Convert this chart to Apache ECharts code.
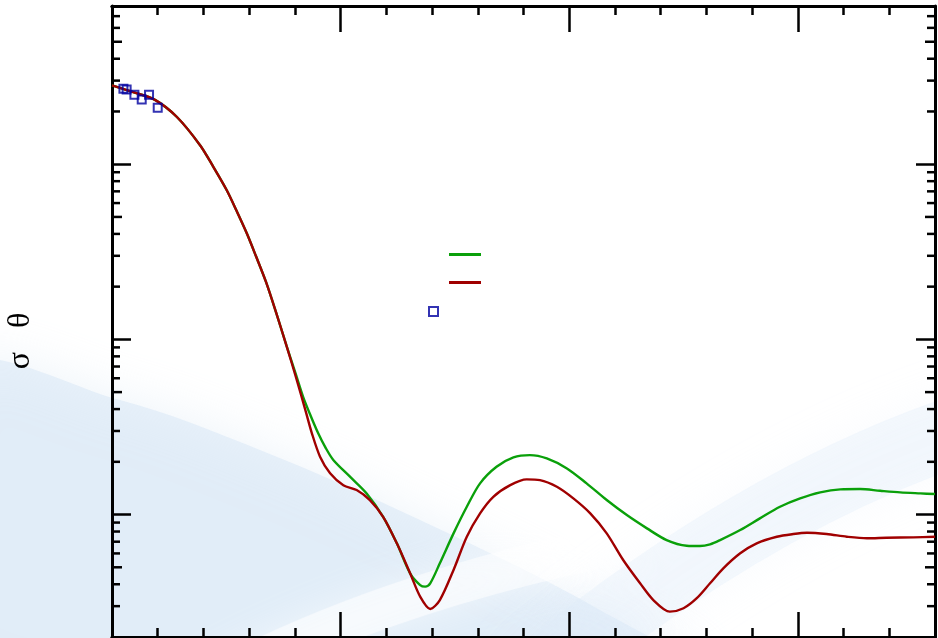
<!DOCTYPE html>
<html><head><meta charset="utf-8">
<script src="https://cdn.jsdelivr.net/npm/echarts@6/dist/echarts.min.js"></script>
<style>html,body{margin:0;padding:0;background:#fff}#c{width:938px;height:638px}</style>
</head><body><div id="c"></div>
<script>
// ---- data ----
const greenAngles = [0, 4.8, 9.4, 14.2, 19.3, 22.1, 25.1, 27.3, 29.5, 31.5, 33.7, 35.9, 38.2, 40.2, 41.8, 43.4, 45.1, 46.7, 48.4, 52.1, 55.7, 59.3, 62.3, 65.2, 67.4, 68.5, 69.6, 71.7, 74.7, 77.6, 80.5, 84.1, 87.8, 91.4, 95.1, 99.5, 103.8, 108.2, 112.6, 117.0, 121.3, 125.7, 128.6, 130.8, 133.0, 137.4, 141.7, 146.1, 150.5, 154.9, 159.3, 163.6, 168.0, 172.4, 176.8, 180];
const greenValues = [282, 257, 233, 186, 128, 97.2, 71, 53.8, 40.2, 29.8, 21.2, 14.2, 9.14, 6.33, 4.70, 3.69, 2.91, 2.41, 2.05, 1.64, 1.32, 0.971, 0.685, 0.462, 0.396, 0.388, 0.405, 0.527, 0.781, 1.108, 1.507, 1.874, 2.12, 2.185, 2.092, 1.834, 1.507, 1.21, 0.993, 0.834, 0.715, 0.664, 0.661, 0.676, 0.715, 0.816, 0.951, 1.108, 1.237, 1.339, 1.392, 1.398, 1.367, 1.339, 1.321, 1.309];

const redAngles = [0, 4.8, 9.4, 14.2, 19.3, 22.1, 25.1, 27.3, 29.5, 31.5, 33.7, 35.9, 38.1, 40.2, 42.4, 43.7, 45.5, 47.7, 50.6, 53.5, 56.4, 59.3, 62.3, 65.2, 67.4, 69.6, 71.7, 74.7, 77.6, 80.5, 83.4, 87.1, 90.7, 93.6, 97.3, 100.9, 104.6, 108.2, 111.8, 115.5, 118.4, 122.0, 125.0, 127.9, 130.8, 133.7, 137.4, 141.0, 145.4, 149.0, 152.0, 156.3, 160.7, 165.1, 169.4, 175.3, 180];
const redValues = [282, 257, 233, 186, 128, 97.2, 71, 53.8, 40.2, 29.8, 21.2, 14.2, 9.31, 6.12, 3.86, 2.92, 2.14, 1.72, 1.47, 1.38, 1.21, 0.971, 0.685, 0.462, 0.34, 0.289, 0.325, 0.483, 0.747, 1.016, 1.263, 1.473, 1.588, 1.573, 1.441, 1.237, 1.016, 0.781, 0.55, 0.405, 0.325, 0.279, 0.292, 0.333, 0.405, 0.493, 0.601, 0.685, 0.747, 0.774, 0.787, 0.774, 0.747, 0.732, 0.737, 0.741, 0.747];

const expAngles = [2.5, 3.2, 4.9, 6.5, 8.1, 10.0];
const expValues = [270, 267, 249, 234, 249, 210];

const yMinorTicks = [0.3, 0.4, 0.5, 0.6, 0.7, 0.8, 0.9, 2, 3, 4, 5, 6, 7, 8, 9, 20, 30, 40, 50, 60, 70, 80, 90, 200, 300, 400, 500, 600, 700];
const seriesNames = ['Calc. A', 'Calc. B', 'Exp.'];
const yTitle = 'σ   θ';

// ---- chart ----
const chart = echarts.init(document.getElementById('c'), null, {renderer: 'canvas'});
const zip = (a, b) => a.map((x, i) => [x, b[i]]);
const X_MIN = 0, X_MAX = 180, Y_MIN = 0.2, Y_MAX = 800;

function xAxisDef(pos, interval, len) {
  return {
    type: 'value', min: X_MIN, max: X_MAX, interval: interval, position: pos,
    axisLine: {show: true, onZero: false, lineStyle: {color: '#000', width: 3}},
    axisTick: {show: true, inside: true, length: len, lineStyle: {color: '#000', width: 2.5}},
    axisLabel: {show: false}, splitLine: {show: false}
  };
}
function yAxisDef(pos) {
  return {
    type: 'log', logBase: 10, min: Y_MIN, max: Y_MAX, position: pos,
    axisLine: {show: true, onZero: false, lineStyle: {color: '#000', width: 3}},
    axisTick: {show: true, inside: true, length: 19, lineStyle: {color: '#000', width: 2.5}},
    axisLabel: {show: false}, splitLine: {show: false}, minorTick: {show: false}
  };
}

const legendCommon = {orient: 'vertical', selectedMode: false, formatter: function () { return ''; }, padding: 0, itemGap: 0, textStyle: {fontSize: 10}};

const option = {
  animation: false,
  backgroundColor: 'transparent',
  grid: {left: 112, right: 3, top: 6, bottom: 1, containLabel: false},
  graphic: [
    {type: 'polygon', z: -10, shape: {points: [[-40, 370], [120, 400], [260, 450], [420, 520], [600, 610], [700, 680], [-40, 680]], smooth: 0.35},
     style: {fill: 'rgba(214,230,245,0.5)', shadowBlur: 50, shadowColor: 'rgba(214,230,245,0.9)'}},
    {type: 'bezierCurve', z: -9, shape: {x1: 200, y1: 690, cpx1: 380, cpy1: 590, x2: 640, y2: 540},
     style: {fill: null, stroke: 'rgba(255,255,255,0.55)', lineWidth: 40, shadowBlur: 35, shadowColor: 'rgba(255,255,255,0.9)'}},
    {type: 'bezierCurve', z: -9, shape: {x1: 520, y1: 690, cpx1: 760, cpy1: 490, x2: 990, y2: 420},
     style: {fill: null, stroke: 'rgba(222,235,247,0.3)', lineWidth: 70, shadowBlur: 45, shadowColor: 'rgba(222,235,247,0.6)'}},
    {type: 'text', z: 10, x: 21, y: 341, rotation: Math.PI / 2,
     style: {text: yTitle, font: '32px "Liberation Serif", "DejaVu Serif", serif', fill: '#000', align: 'center', verticalAlign: 'middle'}}
  ],
  legend: [
    Object.assign({}, legendCommon, {data: [{name: seriesNames[0], icon: 'rect'}], left: 449, top: 253, itemWidth: 32, itemHeight: 3}),
    Object.assign({}, legendCommon, {data: [{name: seriesNames[1], icon: 'rect'}], left: 449, top: 281, itemWidth: 32, itemHeight: 3}),
    Object.assign({}, legendCommon, {data: [{name: seriesNames[2]}], left: 428, top: 306, itemWidth: 9, itemHeight: 9})
  ],
  xAxis: [xAxisDef('bottom', 10, 9), xAxisDef('bottom', 50, 25), xAxisDef('top', 10, 9), xAxisDef('top', 50, 26)],
  yAxis: [yAxisDef('left'), yAxisDef('right')],
  series: [
    {name: seriesNames[0], type: 'line', xAxisIndex: 0, yAxisIndex: 0, data: zip(greenAngles, greenValues),
     smooth: 0.3, showSymbol: false, symbol: 'none', lineStyle: {color: '#0aa00a', width: 2.4}, itemStyle: {color: '#0aa00a'}, z: 3},
    {name: seriesNames[1], type: 'line', xAxisIndex: 0, yAxisIndex: 0, data: zip(redAngles, redValues),
     smooth: 0.3, showSymbol: false, symbol: 'none', lineStyle: {color: '#a00000', width: 2.4}, itemStyle: {color: '#a00000'}, z: 4},
    {name: seriesNames[2], type: 'scatter', xAxisIndex: 0, yAxisIndex: 0, data: zip(expAngles, expValues),
     symbol: 'rect', symbolSize: 8, itemStyle: {color: 'rgba(255,255,255,0)', borderColor: '#0000a0', borderWidth: 2}, z: 5},
    {type: 'custom', xAxisIndex: 0, yAxisIndex: 0, silent: true, z: 6, clip: false,
     data: yMinorTicks.map(v => [X_MIN, v]),
     encode: {x: 0, y: 1},
     renderItem: function (params, api) {
       const v = api.value(1);
       const pL = api.coord([X_MIN, v]);
       const pR = api.coord([X_MAX, v]);
       const m = Math.round(v / Math.pow(10, Math.floor(Math.log10(v) + 1e-9)));
       const len = (m === 5) ? 10 : 8;
       const st = {stroke: '#000', lineWidth: 2.5};
       return {type: 'group', children: [
         {type: 'line', shape: {x1: pL[0], y1: pL[1], x2: pL[0] + len, y2: pL[1]}, style: st},
         {type: 'line', shape: {x1: pR[0], y1: pR[1], x2: pR[0] - len, y2: pR[1]}, style: st}
       ]};
     }}
  ]
};
chart.setOption(option);
</script>
</body></html>
